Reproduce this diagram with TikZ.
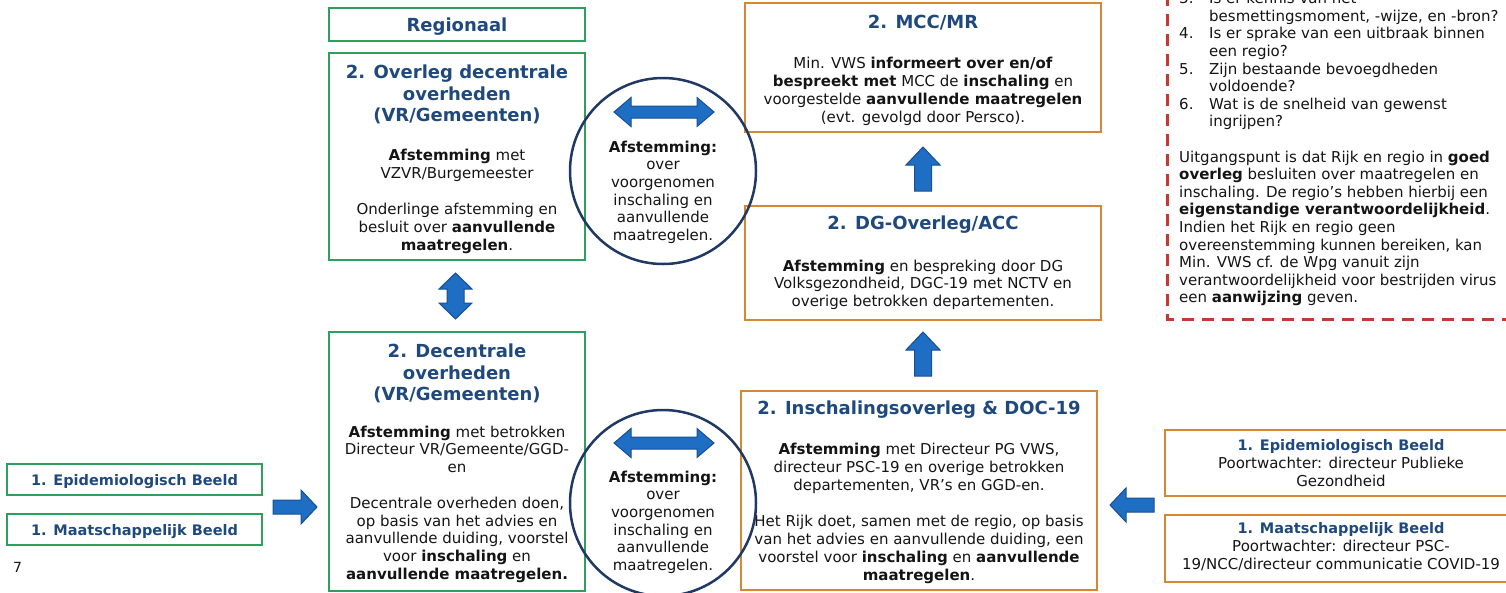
\documentclass[tikz,border=0pt]{standalone}
\usepackage{fontspec}
\setmainfont{DejaVu Sans}
\definecolor{boxgreen}{RGB}{44,160,92}
\definecolor{boxorange}{RGB}{212,136,52}
\definecolor{titleblue}{RGB}{31,73,125}
\definecolor{circblue}{RGB}{31,56,100}
\definecolor{arrowfill}{RGB}{30,110,195}
\definecolor{arrowline}{RGB}{24,78,148}
\definecolor{reddash}{RGB}{200,55,50}
\definecolor{txt}{RGB}{20,20,20}
\tikzset{
  gbox/.style={draw=boxgreen, line width=2.5pt, inner sep=0pt, rectangle},
  obox/.style={draw=boxorange, line width=2.5pt, inner sep=0pt, rectangle},
  ttl/.style={text=titleblue, font=\fontsize{18}{21.5}\selectfont\bfseries, align=center, inner sep=0pt},
  smallttl/.style={text=titleblue, font=\fontsize{14.5}{18}\selectfont\bfseries, align=center, inner sep=0pt},
  bodytext/.style={text=txt, font=\fontsize{15}{18}\selectfont, align=center, inner sep=0pt},
  circtext/.style={text=txt, font=\fontsize{15}{17.7}\selectfont, align=center, inner sep=0pt},
  redtext/.style={text=txt, font=\fontsize{15}{17.6}\selectfont, align=left, inner sep=0pt},
  ring/.style={draw=circblue, line width=2.5pt, circle, inner sep=0pt, minimum size=186pt},
  arrowstyle/.style={fill=arrowfill, draw=arrowline, line width=1pt, line join=miter},
  reddashed/.style={draw=reddash, line width=3pt, dash pattern=on 12pt off 8pt},
  rarrow/.pic={\path[arrowstyle] (-22,-7) -- (6,-7) -- (6,-17) -- (22,0) -- (6,17) -- (6,7) -- (-22,7) -- cycle;},
  larrow/.pic={\path[arrowstyle] (22,-7) -- (-6,-7) -- (-6,-17) -- (-22,0) -- (-6,17) -- (-6,7) -- (22,7) -- cycle;},
  uarrow/.pic={\path[arrowstyle] (-8.5,22) -- (-8.5,-4) -- (-17,-4) -- (0,-22) -- (17,-4) -- (8.5,-4) -- (8.5,22) -- cycle;},
  hdarrow/.pic={\path[arrowstyle] (-50,0) -- (-33,-14.5) -- (-33,-6) -- (33,-6) -- (33,-14.5) -- (50,0) -- (33,14.5) -- (33,6) -- (-33,6) -- (-33,14.5) -- cycle;},
  vdarrow/.pic={\path[arrowstyle] (0,-23) -- (16.5,-7) -- (8.5,-7) -- (8.5,7) -- (16.5,7) -- (0,23) -- (-16.5,7) -- (-8.5,7) -- (-8.5,-7) -- (-16.5,-7) -- cycle;}
}
\begin{document}
\begin{tikzpicture}[x=1pt,y=-1pt]
\useasboundingbox (0,0) rectangle (1506,592);
\clip (0,0) rectangle (1506,592);

% ---------- boxes ----------
\node[gbox, minimum width=256pt, minimum height=33pt] (regio) at (457,24.5) {};
\node[gbox, minimum width=256pt, minimum height=207pt] (overleg) at (457,156.5) {};
\node[gbox, minimum width=256pt, minimum height=259pt] (decentr) at (457,461.5) {};
\node[gbox, minimum width=255pt, minimum height=31pt] (epiL) at (134.5,479.5) {};
\node[gbox, minimum width=255pt, minimum height=31pt] (maatL) at (134.5,529.5) {};
\node[obox, minimum width=356pt, minimum height=129pt] (mcc) at (923,67.5) {};
\node[obox, minimum width=356pt, minimum height=114pt] (dg) at (923,263) {};
\node[obox, minimum width=356pt, minimum height=199pt] (insch) at (919,490.5) {};
\node[obox, minimum width=352pt, minimum height=66pt] (epiR) at (1341,463) {};
\node[obox, minimum width=352pt, minimum height=67pt] (maatR) at (1341,548.5) {};

% ---------- red dashed frame ----------
\coordinate (rtop) at (1167,-6);
\coordinate (rcorner) at (1167,319);
\coordinate (rright) at (1520,319);
\draw[reddashed] (rtop) -- (rcorner) -- (rright);

% ---------- texts: green column ----------
\node[ttl, anchor=base] (regioT) at (457,31.5) {Regionaal};
\node[ttl, anchor=north] (overlegT) at (457,63.4) {\strut 2. Overleg decentrale\\overheden\\(VR/Gemeenten)};
\node[bodytext, anchor=north] (overlegB) at (457,147.4) {\strut\textbf{Afstemming} met\\VZVR/Burgemeester\\[18pt]Onderlinge afstemming en\\besluit over \textbf{aanvullende}\\\textbf{maatregelen}.};
\node[ttl, anchor=north] (decentrT) at (457,342.4) {\strut 2. Decentrale\\overheden\\(VR/Gemeenten)};
\node[bodytext, font=\fontsize{15}{17.8}\selectfont, anchor=north] (decentrB) at (457,424.5) {\strut\textbf{Afstemming} met betrokken\\Directeur VR/Gemeente/GGD-\\en\\[17.8pt]Decentrale overheden doen,\\op basis van het advies en\\aanvullende duiding, voorstel\\voor \textbf{inschaling} en\\\textbf{aanvullende maatregelen.}};
\node[smallttl, anchor=base] (epiLT) at (134.5,485) {1. Epidemiologisch Beeld};
\node[smallttl, anchor=base] (maatLT) at (134.5,535) {1. Maatschappelijk Beeld};
\node[text=txt, font=\fontsize{14}{16}\selectfont, anchor=base west, inner sep=0pt] (pagenr) at (13,572) {7};

% ---------- texts: orange column ----------
\node[ttl, anchor=base] (mccT) at (923,28.5) {2. MCC/MR};
\node[bodytext, anchor=north] (mccB) at (923,55.4) {\strut Min. VWS \textbf{informeert over en/of}\\\textbf{bespreekt met} MCC de \textbf{inschaling} en\\voorgestelde \textbf{aanvullende maatregelen}\\(evt. gevolgd door Persco).};
\node[ttl, anchor=base] (dgT) at (923,229.5) {2. DG-Overleg/ACC};
\node[bodytext, font=\fontsize{15}{17.5}\selectfont, anchor=north] (dgB) at (923,258.7) {\strut\textbf{Afstemming} en bespreking door DG\\Volksgezondheid, DGC-19 met NCTV en\\overige betrokken departementen.};
\node[ttl, anchor=base] (inschT) at (919,414.5) {2. Inschalingsoverleg \& DOC-19};
\node[bodytext, anchor=north] (inschB) at (919,441.4) {\strut\textbf{Afstemming} met Directeur PG VWS,\\directeur PSC-19 en overige betrokken\\departementen, VR’s en GGD-en.\\[18pt]Het Rijk doet, samen met de regio, op basis\\van het advies en aanvullende duiding, een\\voorstel voor \textbf{inschaling} en \textbf{aanvullende}\\\textbf{maatregelen}.};

% ---------- texts: right column ----------
\node[smallttl, anchor=base] (epiRT) at (1341,450.5) {1. Epidemiologisch Beeld};
\node[bodytext, anchor=north] (epiRB) at (1341,455.4) {\strut Poortwachter: directeur Publieke\\Gezondheid};
\node[smallttl, anchor=base] (maatRT) at (1341,533.5) {1. Maatschappelijk Beeld};
\node[bodytext, anchor=north] (maatRB) at (1341,538.4) {\strut Poortwachter: directeur PSC-\\19/NCC/directeur communicatie COVID-19};

\node[redtext, anchor=north west] (crit) at (1179,-8.8) {\strut\makebox[30pt][l]{3.}Is er kennis van het\\
\hspace*{30pt}besmettingsmoment, -wijze, en -bron?\\
\makebox[30pt][l]{4.}Is er sprake van een uitbraak binnen\\
\hspace*{30pt}een regio?\\
\makebox[30pt][l]{5.}Zijn bestaande bevoegdheden\\
\hspace*{30pt}voldoende?\\
\makebox[30pt][l]{6.}Wat is de snelheid van gewenst\\
\hspace*{30pt}ingrijpen?\\[17.6pt]
Uitgangspunt is dat Rijk en regio in \textbf{goed}\\
\textbf{overleg} besluiten over maatregelen en\\
inschaling. De regio’s hebben hierbij een\\
\textbf{eigenstandige verantwoordelijkheid}.\\
Indien het Rijk en regio geen\\
overeenstemming kunnen bereiken, kan\\
Min. VWS cf. de Wpg vanuit zijn\\
verantwoordelijkheid voor bestrijden virus\\
een \textbf{aanwijzing} geven.};

% ---------- circles ----------
\node[ring] (ring1) at (663,171) {};
\node[ring] (ring2) at (663,503) {};
\node[circtext, anchor=north] (ring1T) at (663,139.6) {\strut\textbf{Afstemming:}\\over\\voorgenomen\\inschaling en\\aanvullende\\maatregelen.};
\node[circtext, anchor=north] (ring2T) at (663,469.5) {\strut\textbf{Afstemming:}\\over\\voorgenomen\\inschaling en\\aanvullende\\maatregelen.};

% ---------- block arrows ----------
\pic (arrIn) at (295,507) {rarrow};
\pic (arrRight) at (1132,505) {larrow};
\pic (arrUp1) at (923,169) {uarrow};
\pic (arrUp2) at (923,354) {uarrow};
\pic (arrD1) at (664,112) {hdarrow};
\pic (arrD2) at (664,443) {hdarrow};
\pic (arrV) at (455.5,296) {vdarrow};
\end{tikzpicture}
\end{document}
